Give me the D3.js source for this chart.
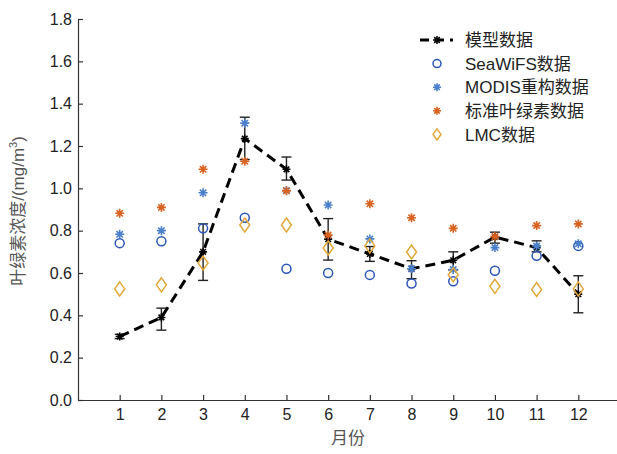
<!DOCTYPE html>
<html>
<head>
<meta charset="utf-8">
<style>
    body { margin: 0; background: #fff; }
    text { font-family: "Liberation Sans", Arial, "Noto Sans CJK SC", sans-serif; }
</style>
</head>
<body>
<svg id="chart" width="617" height="454"></svg>
<script src="https://cdn.jsdelivr.net/npm/d3@7"></script>
<script>
    // values
    let months = [1, 2, 3, 4, 5, 6, 7, 8, 9, 10, 11, 12]
    let yTicks = [0, 0.2, 0.4, 0.6, 0.8, 1.0, 1.2, 1.4, 1.6, 1.8]
    let modelVal = [0.30, 0.39, 0.70, 1.235, 1.09, 0.76, 0.69, 0.62, 0.66, 0.77, 0.72, 0.50]
    let modelHi = [0.31, 0.434, 0.832, 1.336, 1.148, 0.857, 0.725, 0.658, 0.70, 0.793, 0.752, 0.587]
    let modelLo = [0.29, 0.33, 0.565, 1.136, 1.039, 0.661, 0.655, 0.573, 0.615, 0.741, 0.70, 0.412]
    let seawifs = [0.741, 0.750, 0.811, 0.861, 0.620, 0.600, 0.591, 0.550, 0.561, 0.611, 0.681, 0.728]
    let modis = [0.783, 0.800, 0.979, 1.308, 0.99, 0.921, 0.761, 0.620, 0.616, 0.720, 0.728, 0.738]
    let standard = [0.882, 0.910, 1.09, 1.128, 0.988, 0.779, 0.927, 0.861, 0.811, 0.772, 0.824, 0.832]
    let lmc = [0.525, 0.544, 0.647, 0.827, 0.827, 0.718, 0.728, 0.699, 0.592, 0.537, 0.522, 0.525]
    let legendNames = ["模型数据", "SeaWiFS数据", "MODIS重构数据", "标准叶绿素数据", "LMC数据"]

    let svg = d3.select("#chart")

    let x = d3.scaleLinear().domain([0, 13]).range([78, 620])
    let y = d3.scaleLinear().domain([0, 1.8]).range([400, 19])

    // axes, ticks pointing inward like matlab
    let yAxis = d3.axisLeft(y).tickValues(yTicks).tickFormat(d3.format(".1f"))
        .tickSizeInner(-5).tickSizeOuter(0).tickPadding(6)
    svg.append("g").attr("transform", "translate(78,0)").call(yAxis)

    let xAxis = d3.axisBottom(x).tickValues(months).tickFormat(d3.format("d"))
        .tickSizeInner(-5).tickSizeOuter(0).tickPadding(9)
    svg.append("g").attr("transform", "translate(0,400)").call(xAxis)

    svg.selectAll(".domain, .tick line").attr("stroke", "#333").attr("stroke-width", 1.2)
    svg.selectAll(".tick text").style("font-size", "16px").attr("fill", "#222")

    svg.append("text")
        .attr("transform", "translate(24,211) rotate(-90)")
        .attr("text-anchor", "middle")
        .style("font-size", "17px").attr("fill", "#555")
        .html('叶绿素浓度/(mg/m<tspan dy="-7" font-size="11">3</tspan><tspan dy="7">)</tspan>')

    svg.append("text")
        .attr("x", 348).attr("y", 444)
        .attr("text-anchor", "middle")
        .style("font-size", "17px").attr("fill", "#555")
        .text("月份")

    // marker helpers
    let star = function (r) {
        let p = d3.path()
        for (let a = 0; a < 4; a++) {
            let t = a * Math.PI / 4
            p.moveTo(-r * Math.cos(t), -r * Math.sin(t))
            p.lineTo(r * Math.cos(t), r * Math.sin(t))
        }
        return p.toString()
    }
    let diamond = "M0,-7L5,0L0,7L-5,0Z"

    let blue = "#2a56b8", lblue = "#4a7fcb", orange = "#d8621f", gold = "#e3a93a"

    function drawStars(vals, color, r) {
        svg.append("g").selectAll("path").data(vals).enter().append("path")
            .attr("d", star(r))
            .attr("transform", (d, i) => "translate(" + x(months[i]) + "," + y(d) + ")")
            .attr("stroke", color).attr("stroke-width", 1.6).attr("fill", "none")
    }

    // model first: error bars, dashed line, star markers
    let eb = svg.append("g").attr("stroke", "#222").attr("stroke-width", 1.4)
    months.forEach(function (m, i) {
        eb.append("line").attr("x1", x(m)).attr("x2", x(m)).attr("y1", y(modelLo[i])).attr("y2", y(modelHi[i]))
        eb.append("line").attr("x1", x(m) - 5).attr("x2", x(m) + 5).attr("y1", y(modelLo[i])).attr("y2", y(modelLo[i]))
        eb.append("line").attr("x1", x(m) - 5).attr("x2", x(m) + 5).attr("y1", y(modelHi[i])).attr("y2", y(modelHi[i]))
    })

    let line = d3.line().x((d, i) => x(months[i])).y(d => y(d))
    svg.append("path").datum(modelVal).attr("d", line)
        .attr("fill", "none").attr("stroke", "#000").attr("stroke-width", 3)
        .attr("stroke-dasharray", "10,6")
    drawStars(modelVal, "#000", 4)

    // SeaWiFS circles
    svg.append("g").selectAll("circle").data(seawifs).enter().append("circle")
        .attr("cx", (d, i) => x(months[i])).attr("cy", d => y(d)).attr("r", 4.5)
        .attr("fill", "none").attr("stroke", blue).attr("stroke-width", 1.5)

    drawStars(modis, lblue, 4.5)
    drawStars(standard, orange, 4.5)

    // LMC diamonds
    svg.append("g").selectAll("path").data(lmc).enter().append("path")
        .attr("d", diamond)
        .attr("transform", (d, i) => "translate(" + x(months[i]) + "," + y(d) + ")")
        .attr("fill", "none").attr("stroke", gold).attr("stroke-width", 1.5)

    // legend
    let leg = svg.append("g")
    let rowY = d => 40 + d * 23.6
    leg.append("line").attr("x1", 420).attr("x2", 453).attr("y1", rowY(0)).attr("y2", rowY(0))
        .attr("stroke", "#000").attr("stroke-width", 3).attr("stroke-dasharray", "9,6")
    leg.append("path").attr("d", star(4)).attr("transform", "translate(437," + rowY(0) + ")")
        .attr("stroke", "#000").attr("stroke-width", 1.6)
    leg.append("circle").attr("cx", 437).attr("cy", rowY(1)).attr("r", 4)
        .attr("fill", "none").attr("stroke", blue).attr("stroke-width", 1.5)
    leg.append("path").attr("d", star(4)).attr("transform", "translate(437," + rowY(2) + ")")
        .attr("stroke", lblue).attr("stroke-width", 1.6)
    leg.append("path").attr("d", star(4)).attr("transform", "translate(437," + rowY(3) + ")")
        .attr("stroke", orange).attr("stroke-width", 1.6)
    leg.append("path").attr("d", "M0,-5.5L4,0L0,5.5L-4,0Z").attr("transform", "translate(437," + rowY(4) + ")")
        .attr("fill", "none").attr("stroke", gold).attr("stroke-width", 1.5)

    leg.selectAll("text").data(legendNames).enter().append("text")
        .attr("x", 465).attr("y", (d, i) => rowY(i)).attr("dy", "0.36em")
        .style("font-size", "17px").attr("fill", "#222")
        .text(d => d)
</script>
</body>
</html>
